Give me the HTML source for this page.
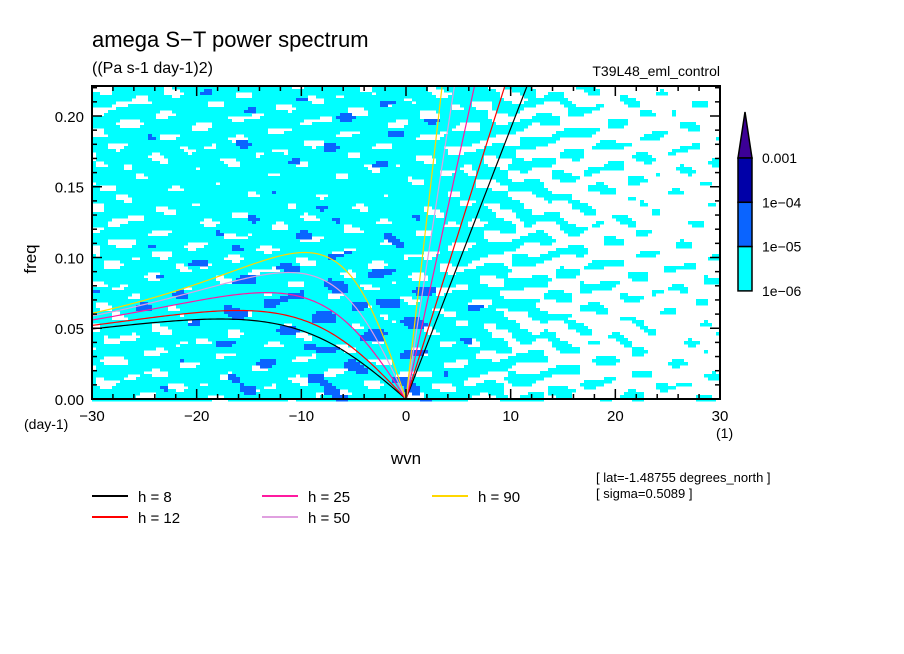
<!DOCTYPE html>
<html><head><meta charset="utf-8"><style>
html,body{margin:0;padding:0;background:#fff;}
svg{display:block;font-family:"Liberation Sans",sans-serif;}
</style></head><body>
<svg id="chart" width="904" height="654" viewBox="0 0 904 654">
<g id="field"></g>
<g id="curves"></g>
<rect x="92" y="86" width="628" height="313" fill="none" stroke="#000" stroke-width="2"/>
<g id="axes"></g>
<text x="92" y="47" font-size="22">amega S−T power spectrum</text>
<text x="92" y="73" font-size="16">((Pa s-1 day-1)2)</text>
<text x="720" y="76" font-size="14" text-anchor="end">T39L48_eml_control</text>
<text x="36" y="259" font-size="17" text-anchor="middle" transform="rotate(-90 36 259)">freq</text>
<text x="406" y="464" font-size="17" text-anchor="middle">wvn</text>
<text x="24" y="429" font-size="14">(day-1)</text>
<text x="716" y="438" font-size="14">(1)</text>
<text x="596" y="482" font-size="13">[ lat=-1.48755 degrees_north ]</text>
<text x="596" y="498" font-size="13">[ sigma=0.5089 ]</text>
<g id="legend"></g>
<g id="cbar"></g>
</svg>
<script>
const NS="http://www.w3.org/2000/svg";
// ---- data ----
const depths=[8,12,25,50,90];
const depthColors=["#000000","#ff0000","#ff1aa0","#e0a0e0","#ffd700"];
const xTicks=[-30,-20,-10,0,10,20,30];
const yTicks=[0,0.05,0.10,0.15,0.20];
const cbarLabels=["0.001","1e-04","1e-05","1e-06"];
const cbarColors=["#0000a8","#0a64ff","#00ffff"];
// cyan / blue coverage by wavenumber (-30..30 step 5)
const coverWvn=[-30,-25,-20,-15,-10,-5,0,5,10,15,20,25,30];
const coverCyan=[0.74,0.86,0.88,0.9,0.9,0.9,0.88,0.8,0.56,0.34,0.2,0.12,0.08];
const coverBlue=[0.01,0.03,0.06,0.09,0.11,0.14,0.12,0.03,0.01,0.0,0.0,0.0,0.0];

const X0=92,X1=720,Y0=399,Y1=86,FMAX=0.2212;
const xs=v=>X0+(v+30)/60*(X1-X0);
const ys=v=>Y0-v/FMAX*(Y0-Y1);
function el(t,a,p){const e=document.createElementNS(NS,t);for(const k in a)e.setAttribute(k,a[k]);(p||document.getElementById('chart')).appendChild(e);return e;}
function interp(arr,w){const i=Math.min(11,Math.max(0,Math.floor((w+30)/5)));const t=(w-coverWvn[i])/5;return arr[i]*(1-t)+arr[i+1]*t;}
function thr(p){p=Math.min(0.995,Math.max(0.005,p));return 0.64*Math.log(p/(1-p))/1.7;}

// ---- field: deterministic smooth texture thresholded by coverage arrays ----
const field=document.getElementById('field');
function tex(x,y,s){
 return Math.sin(x*0.083+y*0.031+s)*Math.sin(y*0.29-x*0.013+s*1.3)
  +0.7*Math.sin(x*0.057-y*0.21+s*2.1)*Math.sin(x*0.13+y*0.06+s)
  +0.4*Math.sin(x*0.19+y*0.11+s*0.7)*Math.sin(y*0.37+s*1.9);}
const cw=4,ch=3;
for(let j=0;j*ch<313;j++){let run=null;
 for(let i=0;i*cw<=628;i++){
 let col=null;
 if(i*cw<628){
 const px=i*cw+cw/2, py=j*ch+ch/2;
 const w=-30+px/628*60, f=(313-py)/313*FMAX;
 const c=interp(coverCyan,w), b=interp(coverBlue,w)*Math.max(0.3,1.5-f*7);
 if(tex(px,py,0.5)<thr(c)) col="#00ffff";
 if(b>0.004 && -tex(px*0.8+40,py*0.7+17,2.3)<thr(b)) col="#0a64ff";
 }
 if(run&&run.col!==col){const r=el('rect',{x:X0+run.i*cw,y:Y1+j*ch,width:(i-run.i)*cw,height:ch+0.5,fill:run.col},field);
  
  
  run=null;}
 if(col&&!run) run={i:i,col:col};
}}

// ---- dispersion curves ----
const curves=document.getElementById('curves');
const R=6.371e6,beta=2*7.292e-5/R,g=9.81;
depths.forEach((h,k)=>{
 const c=Math.sqrt(g*h);
 let pk=[],pr=[];
 for(let s=0;s<=30;s+=0.25){const f=s/R*c*86400/(2*Math.PI);if(f>FMAX){pk.push([xs(FMAX*2*Math.PI*R/(c*86400)),ys(FMAX)]);break;}pk.push([xs(s),ys(f)]);}
 for(let s=0;s<=30;s+=0.25){const kk=s/R;const om=beta*kk/(kk*kk+3*beta/c);pr.push([xs(-s),ys(om*86400/(2*Math.PI))]);}
 const kl=el('polyline',{points:pk.map(p=>p.join(',')).join(' '),fill:'none',stroke:depthColors[k],'stroke-width':1.2},curves);
 
 
 const rl=el('polyline',{points:pr.map(p=>p.join(',')).join(' '),fill:'none',stroke:depthColors[k],'stroke-width':1.2},curves);
 
 
});

// ---- axes ----
const axes=document.getElementById('axes');
for(let v=-30;v<=30;v+=2){const big=v%10===0;for(const yy of [Y0,Y1]){const d=yy===Y0?-1:1;el('line',{x1:xs(v),x2:xs(v),y1:yy,y2:yy+d*(big?10:5),stroke:'#000','stroke-width':1.5},axes);}}
for(let v=0;v<=0.221;v+=0.01){const big=Math.round(v*100)%5===0;for(const xx of [X0,X1]){const d=xx===X0?1:-1;el('line',{x1:xx,x2:xx+d*(big?10:5),y1:ys(v),y2:ys(v),stroke:'#000','stroke-width':1.5},axes);}}
xTicks.forEach(v=>{const t=el('text',{x:xs(v),y:Y0+22,'font-size':15,'text-anchor':'middle'},axes);t.textContent=v<0?'−'+(-v):String(v);});
yTicks.forEach(v=>{const t=el('text',{x:X0-8,y:ys(v)+6,'font-size':15,'text-anchor':'end'},axes);t.textContent=v.toFixed(2);});

// ---- legend ----
const leg=document.getElementById('legend');
const lpos=[[92,496],[92,517],[262,496],[262,517],[432,496]];
depths.forEach((h,k)=>{const [x,y]=lpos[k];
 const l=el('line',{x1:x,x2:x+36,y1:y,y2:y,stroke:depthColors[k],'stroke-width':2},leg);
 
 const t=el('text',{x:x+46,y:y+6,'font-size':15,'xml:space':'preserve'},leg);t.textContent='h = '+(h<10?' ':'')+h;
 });

// ---- colorbar ----
const cb=document.getElementById('cbar');
const tri=el('polygon',{points:'745,112 738,158 752,158',fill:'#3c0096',stroke:'#000','stroke-width':1.5},cb);

cbarColors.forEach((c,i)=>{const r=el('rect',{x:738,y:158+i*44.3,width:14,height:44.3,fill:c,stroke:'#000','stroke-width':1.5},cb);
 });
cbarLabels.forEach((s,i)=>{const t=el('text',{x:762,y:163+i*44.3,'font-size':14},cb);t.textContent=s.replace('-','−');
 });
</script>
</body></html>
